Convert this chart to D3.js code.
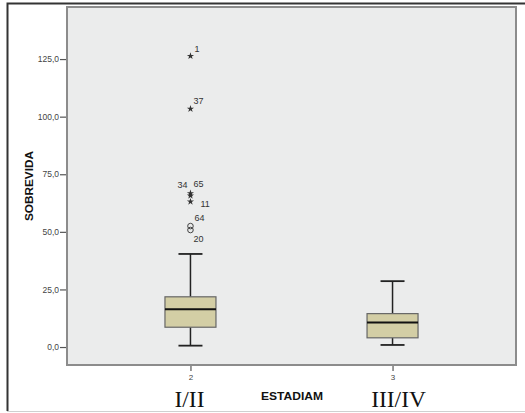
<!DOCTYPE html>
<html>
<head>
<meta charset="utf-8">
<script src="https://cdn.jsdelivr.net/npm/d3@7"></script>
<style>
  html, body { margin: 0; padding: 0; background: #fff; }
  svg { display: block; }
</style>
</head>
<body>
<div id="chart"></div>
<script>
// ── Data ──────────────────────────────────────────────────────────────────────
const groups = ['2', '3'];
const groupNames = ['I/II', 'III/IV'];
const lowWhisker = [0.6, 0.9];
const q1 = [8.6, 4.0];
const median = [16.4, 10.7];
const q3 = [21.8, 14.5];
const highWhisker = [40.4, 28.6];

// outliers (group 2 only): case id, value, kind ('o' = outlier, '*' = extreme)
const outlierIds = ['1', '37', '34', '65', '11', '64', '20'];
const outlierValues = [126.3, 103.4, 66.7, 65.7, 63.1, 52.5, 50.8];
const outlierKinds = ['*', '*', '*', '*', '*', 'o', 'o'];

const yTicks = [0, 25, 50, 75, 100, 125];

// label nudges around each outlier mark: [dx, dy, anchor]
const labelNudge = {
  '1': [4, -4, 'start'], '37': [3, -5, 'start'], '34': [-3, -5, 'end'],
  '65': [3, -9, 'start'], '11': [10, 5, 'start'], '64': [4, -5, 'start'],
  '20': [3, 12, 'start']
};

// ── SVG setup ─────────────────────────────────────────────────────────────────
const W = 525, H = 413;
const plot = { left: 67, top: 7, right: 516, bottom: 365 };

const svg = d3.select('#chart').append('svg')
  .attr('width', W).attr('height', H);

// outer frame
svg.append('path')
  .attr('d', `M7.5,${H - 2}V3.5H${W}`)
  .attr('fill', 'none').attr('stroke', '#333').attr('stroke-width', 2);
svg.append('line')
  .attr('x1', 7).attr('x2', W).attr('y1', 411.5).attr('y2', 411.5)
  .attr('stroke', '#d0d0d0').attr('stroke-width', 1);

// plot background
svg.append('rect')
  .attr('x', plot.left).attr('y', plot.top)
  .attr('width', plot.right - plot.left).attr('height', plot.bottom - plot.top)
  .attr('fill', '#ebecec').attr('stroke', '#8c8c8c').attr('stroke-width', 2);

// ── Scales ────────────────────────────────────────────────────────────────────
const y = d3.scaleLinear().domain([-7.8, 147.6]).range([plot.bottom, plot.top]);
const x = d3.scalePoint().domain(groups).range([plot.left, plot.right]).padding(0.611);

const fmt = d => d3.format('.1f')(d).replace('.', ',');

// ── Axes ──────────────────────────────────────────────────────────────────────
const yAxis = svg.append('g')
  .attr('transform', `translate(${plot.left - 1},0)`)
  .call(d3.axisLeft(y).tickValues(yTicks).tickFormat(fmt).tickSize(6).tickPadding(1));
yAxis.select('.domain').remove();
yAxis.selectAll('line').attr('stroke', '#555').attr('stroke-width', 1.2);
yAxis.selectAll('text').attr('fill', '#444')
  .style('font', '8.5px "Liberation Sans", Arial, sans-serif');

const xAxis = svg.append('g')
  .attr('transform', `translate(0,${plot.bottom + 1})`)
  .call(d3.axisBottom(x).tickSize(5).tickPadding(3));
xAxis.select('.domain').remove();
xAxis.selectAll('line').attr('stroke', '#555').attr('stroke-width', 1.2);
xAxis.selectAll('text').attr('fill', '#444')
  .style('font', '8px "Liberation Sans", Arial, sans-serif');

// axis titles
svg.append('text')
  .attr('transform', `translate(33,${(plot.top + plot.bottom) / 2}) rotate(-90)`)
  .attr('text-anchor', 'middle')
  .attr('textLength', 70).attr('lengthAdjust', 'spacingAndGlyphs')
  .style('font', 'bold 11px "Liberation Sans", Arial, sans-serif')
  .attr('fill', '#111')
  .text('SOBREVIDA');

svg.append('text')
  .attr('x', 292).attr('y', 399.5)
  .attr('text-anchor', 'middle')
  .attr('textLength', 62).attr('lengthAdjust', 'spacingAndGlyphs')
  .style('font', 'bold 10.5px "Liberation Sans", Arial, sans-serif')
  .attr('fill', '#111')
  .text('ESTADIAM');

// roman stage names under the ticks
svg.append('g').selectAll('text')
  .data(groups)
  .join('text')
  .attr('x', (d, i) => x(d) + (i === 0 ? -1 : 6))
  .attr('y', 407)
  .attr('text-anchor', 'middle')
  .style('font', '23.5px "Liberation Serif", "Times New Roman", serif')
  .attr('fill', '#111')
  .text((d, i) => groupNames[i]);

// ── Boxes ─────────────────────────────────────────────────────────────────────
const boxHalf = 25.5, capHalf = 12;
const boxes = svg.append('g').selectAll('g')
  .data(groups)
  .join('g')
  .attr('transform', d => `translate(${x(d)},0)`);

boxes.append('line')
  .attr('x1', 0).attr('x2', 0)
  .attr('y1', (d, i) => y(highWhisker[i])).attr('y2', (d, i) => y(q3[i]))
  .attr('stroke', '#222').attr('stroke-width', 1.5);
boxes.append('line')
  .attr('x1', 0).attr('x2', 0)
  .attr('y1', (d, i) => y(q1[i])).attr('y2', (d, i) => y(lowWhisker[i]))
  .attr('stroke', '#222').attr('stroke-width', 1.5);
boxes.append('line')
  .attr('x1', -capHalf).attr('x2', capHalf)
  .attr('y1', (d, i) => y(highWhisker[i])).attr('y2', (d, i) => y(highWhisker[i]))
  .attr('stroke', '#222').attr('stroke-width', 1.8);
boxes.append('line')
  .attr('x1', -capHalf).attr('x2', capHalf)
  .attr('y1', (d, i) => y(lowWhisker[i])).attr('y2', (d, i) => y(lowWhisker[i]))
  .attr('stroke', '#222').attr('stroke-width', 1.8);
boxes.append('rect')
  .attr('x', -boxHalf).attr('width', boxHalf * 2)
  .attr('y', (d, i) => y(q3[i]))
  .attr('height', (d, i) => y(q1[i]) - y(q3[i]))
  .attr('fill', '#d3cea5').attr('stroke', '#666').attr('stroke-width', 1.2);
boxes.append('line')
  .attr('x1', -boxHalf).attr('x2', boxHalf)
  .attr('y1', (d, i) => y(median[i])).attr('y2', (d, i) => y(median[i]))
  .attr('stroke', '#111').attr('stroke-width', 2);

// ── Outliers ──────────────────────────────────────────────────────────────────
const outliers = outlierIds.map((id, i) => ({ id, v: outlierValues[i], kind: outlierKinds[i] }));
const ox = x('2');
const og = svg.append('g');

og.selectAll('path')
  .data(outliers.filter(d => d.kind === '*'))
  .join('path')
  .attr('transform', d => `translate(${ox},${y(d.v)})`)
  .attr('d', d3.symbol(d3.symbolStar, 16))
  .attr('fill', '#333');

og.selectAll('circle')
  .data(outliers.filter(d => d.kind === 'o'))
  .join('circle')
  .attr('cx', ox).attr('cy', d => y(d.v)).attr('r', 2.8)
  .attr('fill', 'none').attr('stroke', '#444').attr('stroke-width', 1);

og.selectAll('text')
  .data(outliers)
  .join('text')
  .attr('x', d => ox + labelNudge[d.id][0])
  .attr('y', d => y(d.v) + labelNudge[d.id][1])
  .attr('text-anchor', d => labelNudge[d.id][2])
  .style('font', '9px "Liberation Sans", Arial, sans-serif')
  .attr('fill', '#333')
  .text(d => d.id);
</script>
</body>
</html>
